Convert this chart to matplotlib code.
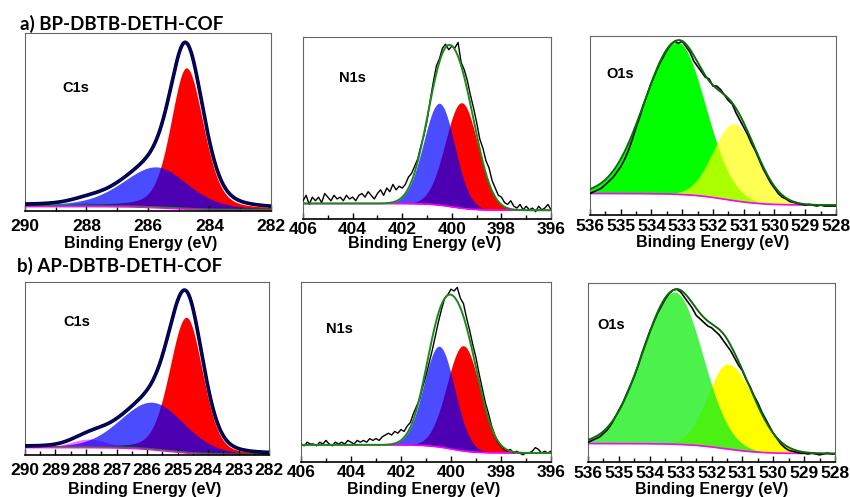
import numpy as np
import matplotlib
matplotlib.use("Agg")
import matplotlib.pyplot as plt
from matplotlib.ticker import MultipleLocator

plt.rcParams['font.family'] = ['Liberation Sans', 'DejaVu Sans']
plt.rcParams['font.weight'] = 'bold'

# ---- data (y in axes units 0..1) ----
# fitted peaks: centre (eV), height, fwhm on high-BE side, fwhm on low-BE side, lorentz part
c1s_a_center = [284.75, 285.72, 288.0]
c1s_a_height = [0.79, 0.225, 0.015]
c1s_a_fwhm_hi = [1.2, 2.6, 1.2]
c1s_a_fwhm_lo = [1.3, 2.4, 1.2]
c1s_a_eta = [0.3, 0.3, 0.0]
c1s_a_bg = [0.03, 0.008]

c1s_b_center = [284.71, 285.82, 287.9]
c1s_b_height = [0.78, 0.27, 0.045]
c1s_b_fwhm_hi = [1.3, 2.45, 1.3]
c1s_b_fwhm_lo = [1.25, 2.45, 1.3]
c1s_b_eta = [0.2, 0.1, 0.0]
c1s_b_bg = [0.048, 0.004]

n1s_a_center = [399.6, 400.5]
n1s_a_height = [0.58, 0.56]
n1s_a_fwhm_hi = [1.55, 1.5]
n1s_a_fwhm_lo = [1.55, 1.45]
n1s_a_bg = [0.085, 0.048]

n1s_b_center = [399.5, 400.47]
n1s_b_height = [0.585, 0.56]
n1s_b_fwhm_hi = [1.55, 1.45]
n1s_b_fwhm_lo = [1.55, 1.45]
n1s_b_bg = [0.095, 0.05]

o1s_a_center = [533.15, 531.31]
o1s_a_height = [0.85, 0.43]
o1s_a_fwhm_hi = [2.53, 1.6]
o1s_a_fwhm_lo = [2.1, 1.8]
o1s_a_bg = [0.12, 0.055]

o1s_b_center = [533.19, 531.46]
o1s_b_height = [0.85, 0.475]
o1s_b_fwhm_hi = [2.43, 1.55]
o1s_b_fwhm_lo = [2.1, 2.0]
o1s_b_bg = [0.103, 0.047]

# measured spectra, 0.125 eV steps from high to low binding energy
n1s_a_raw = [0.10, 0.13, 0.08, 0.12, 0.10, 0.12, 0.09, 0.14, 0.12, 0.10, 0.13, 0.11, 0.12, 0.10, 0.13, 0.11,
             0.12, 0.10, 0.13, 0.14, 0.12, 0.15, 0.13, 0.11, 0.14, 0.16, 0.13, 0.17, 0.15, 0.19, 0.16, 0.18,
             0.17, 0.19, 0.23, 0.25, 0.29, 0.33, 0.40, 0.46, 0.54, 0.65, 0.75, 0.84, 0.88, 0.94, 0.96, 0.93,
             0.95, 0.94, 0.97, 0.86, 0.82, 0.76, 0.68, 0.61, 0.53, 0.44, 0.39, 0.32, 0.28, 0.21, 0.17, 0.13,
             0.12, 0.09, 0.08, 0.10, 0.07, 0.06, 0.08, 0.05, 0.07, 0.05, 0.06, 0.04, 0.07, 0.05, 0.06, 0.08, 0.05]
n1s_b_raw = [0.10, 0.09, 0.11, 0.10, 0.10, 0.09, 0.11, 0.10, 0.12, 0.10, 0.09, 0.11, 0.10, 0.11, 0.10, 0.12,
             0.11, 0.10, 0.12, 0.11, 0.12, 0.11, 0.13, 0.12, 0.13, 0.12, 0.14, 0.15, 0.16, 0.15, 0.17, 0.16,
             0.18, 0.17, 0.20, 0.22, 0.27, 0.31, 0.35, 0.42, 0.48, 0.55, 0.62, 0.70, 0.78, 0.85, 0.91, 0.93,
             0.96, 0.95, 0.97, 0.91, 0.88, 0.80, 0.73, 0.65, 0.58, 0.49, 0.41, 0.33, 0.27, 0.20, 0.15, 0.11,
             0.09, 0.07, 0.06, 0.07, 0.05, 0.06, 0.05, 0.04, 0.05, 0.05, 0.06, 0.08, 0.07, 0.05, 0.06, 0.05, 0.06]
o1s_a_raw = [0.12, 0.13, 0.14, 0.15, 0.17, 0.19, 0.21, 0.24, 0.27, 0.31, 0.36, 0.42, 0.49, 0.55, 0.62, 0.68,
             0.74, 0.79, 0.84, 0.88, 0.92, 0.95, 0.97, 0.96, 0.97, 0.94, 0.91, 0.86, 0.83, 0.80, 0.77, 0.76,
             0.72, 0.72, 0.70, 0.67, 0.64, 0.62, 0.57, 0.53, 0.49, 0.45, 0.40, 0.36, 0.31, 0.26, 0.22, 0.18,
             0.15, 0.12, 0.10, 0.09, 0.075, 0.07, 0.065, 0.06, 0.055, 0.06, 0.055, 0.05, 0.055, 0.05, 0.05, 0.05, 0.05]
o1s_b_raw = [0.11, 0.12, 0.13, 0.14, 0.16, 0.18, 0.21, 0.25, 0.29, 0.33, 0.38, 0.43, 0.48, 0.54, 0.61, 0.67,
             0.73, 0.78, 0.83, 0.87, 0.91, 0.94, 0.96, 0.965, 0.95, 0.92, 0.89, 0.86, 0.82, 0.80, 0.78, 0.76,
             0.75, 0.73, 0.71, 0.68, 0.65, 0.62, 0.58, 0.54, 0.51, 0.46, 0.42, 0.37, 0.33, 0.28, 0.24, 0.20,
             0.16, 0.13, 0.10, 0.08, 0.065, 0.06, 0.055, 0.05, 0.05, 0.045, 0.05, 0.045, 0.04, 0.045, 0.05, 0.045, 0.045]

titles = ["a) BP-DBTB-DETH-COF", "b) AP-DBTB-DETH-COF"]


def peak(x, c, h, w_hi, w_lo, eta=0.0):
    w = np.where(x >= c, w_hi, w_lo) / 2.0
    u = (x - c) / w
    return h * ((1 - eta) * np.exp(-np.log(2) * u ** 2) + eta / (1 + u ** 2))


def background(x, lev, c, s=0.5):
    return lev[1] + (lev[0] - lev[1]) / (1 + np.exp(-(x - c) / s))


def style(ax, xlim, major, minor, pad, lab_x, lab_y):
    ax.set_xlim(*xlim)
    ax.set_ylim(0, 1)
    ax.set_yticks([])
    ax.xaxis.set_major_locator(MultipleLocator(major))
    ax.xaxis.set_minor_locator(MultipleLocator(minor))
    ax.tick_params(axis='x', which='both', direction='in', top=False, labelsize=12.5, pad=pad)
    ax.tick_params(axis='x', which='major', length=4, width=1)
    ax.tick_params(axis='x', which='minor', length=3, width=1)
    for side in ['top', 'left', 'right']:
        ax.spines[side].set_color('#666666')
        ax.spines[side].set_linewidth(0.8)
    ax.spines['bottom'].set_linewidth(1.2)
    ax.set_xlabel("Binding Energy (eV)", fontsize=11.5, fontweight='bold')
    ax.xaxis.label.set_va('center')
    ax.xaxis.set_label_coords(lab_x, lab_y)


fig = plt.figure(figsize=(8.5, 4.97), dpi=100)

# ---------------- C1s ----------------
c1s_sets = [
    (c1s_a_center, c1s_a_height, c1s_a_fwhm_hi, c1s_a_fwhm_lo, c1s_a_eta, c1s_a_bg,
     [0.0294, 0.5755, 0.2894, 0.3581], 2, 1, 6, 0.47, -0.18, (0.15, 0.69)),
    (c1s_b_center, c1s_b_height, c1s_b_fwhm_hi, c1s_b_fwhm_lo, c1s_b_eta, c1s_b_bg,
     [0.0294, 0.0845, 0.2871, 0.3481], 1, 0.5, 6, 0.49, -0.197, (0.156, 0.77)),
]
for cen, hgt, whi, wlo, eta, bgl, pos, mj, mn, pad, lx, ly, tpos in c1s_sets:
    ax = fig.add_axes(pos)
    x = np.linspace(290, 282, 600)
    bg = background(x, bgl, 285.3, 0.6)
    red = peak(x, cen[0], hgt[0], whi[0], wlo[0], eta[0])
    blue = peak(x, cen[1], hgt[1], whi[1], wlo[1], eta[1])
    mag = peak(x, cen[2], hgt[2], whi[2], wlo[2], eta[2])
    ax.fill_between(x, bg, bg + mag, color='#ff33ff', alpha=0.7, lw=0, zorder=1)
    ax.fill_between(x, bg, bg + red, color='#ff0000', lw=0, zorder=1.1)
    ax.fill_between(x, bg, bg + blue, color='#0000ff', alpha=0.7, lw=0, zorder=1.2)
    ax.plot(x, bg, color='#1a8a1a', lw=1.0, zorder=2)
    ax.plot(x, bg - 0.006, color='#ff00ff', lw=0.9, zorder=2)
    env = bg + red + blue + mag
    ax.plot(x, env, color='black', lw=2.6, zorder=3)
    ax.plot(x, env, color='#000080', lw=1.5, zorder=4)
    ax.text(tpos[0], tpos[1], "C1s", transform=ax.transAxes, fontsize=10.5,
            fontweight='bold', va='center', ha='left')
    style(ax, (290, 282), mj, mn, pad, lx, ly)

# ---------------- N1s ----------------
n1s_sets = [
    (n1s_a_center, n1s_a_height, n1s_a_fwhm_hi, n1s_a_fwhm_lo, n1s_a_bg, n1s_a_raw,
     [0.3565, 0.5594, 0.2918, 0.3662], 2, -0.132, (0.145, 0.775)),
    (n1s_b_center, n1s_b_height, n1s_b_fwhm_hi, n1s_b_fwhm_lo, n1s_b_bg, n1s_b_raw,
     [0.3541, 0.0704, 0.2941, 0.3622], 2, -0.15, (0.10, 0.74)),
]
for cen, hgt, whi, wlo, bgl, raw, pos, pad, ly, tpos in n1s_sets:
    ax = fig.add_axes(pos)
    x = np.linspace(406, 396, 600)
    bg = background(x, bgl, 400.0, 0.45)
    red = peak(x, cen[0], hgt[0], whi[0], wlo[0])
    blue = peak(x, cen[1], hgt[1], whi[1], wlo[1])
    ax.fill_between(x, bg, bg + red, color='#ff0000', lw=0, zorder=1)
    ax.fill_between(x, bg, bg + blue, color='#0000ff', alpha=0.7, lw=0, zorder=1.1)
    ax.plot(x, bg, color='#ff00ff', lw=1.2, zorder=2)
    ax.plot(np.linspace(406, 396, len(raw)), raw, color='black', lw=1.0, zorder=3)
    ax.plot(x, bg + red + blue, color='#1a8a1a', lw=1.4, zorder=4)
    ax.text(tpos[0], tpos[1], "N1s", transform=ax.transAxes, fontsize=10.5,
            fontweight='bold', va='center', ha='left')
    style(ax, (406, 396), 2, 1, pad, 0.49, ly)

# ---------------- O1s ----------------
o1s_sets = [
    (o1s_a_center, o1s_a_height, o1s_a_fwhm_hi, o1s_a_fwhm_lo, o1s_a_bg, o1s_a_raw,
     [0.6941, 0.5674, 0.2894, 0.3602], 3, -0.156, (0.065, 0.79), True),
    (o1s_b_center, o1s_b_height, o1s_b_fwhm_hi, o1s_b_fwhm_lo, o1s_b_bg, o1s_b_raw,
     [0.6918, 0.0704, 0.2906, 0.3602], 3, -0.151, (0.036, 0.765), False),
]
for cen, hgt, whi, wlo, bgl, raw, pos, pad, ly, tpos, yellow_top in o1s_sets:
    ax = fig.add_axes(pos)
    x = np.linspace(536, 528, 600)
    bg = background(x, bgl, 531.6, 0.6)
    grn = peak(x, cen[0], hgt[0], whi[0], wlo[0])
    yel = peak(x, cen[1], hgt[1], whi[1], wlo[1])
    if yellow_top:
        ax.fill_between(x, bg, bg + grn, color='#00ff00', lw=0, zorder=1)
        ax.fill_between(x, bg, bg + yel, color='#ffff00', alpha=0.67, lw=0, zorder=1.1)
    else:
        ax.fill_between(x, bg, bg + yel, color='#ffff00', lw=0, zorder=1)
        ax.fill_between(x, bg, bg + grn, color='#1aee1a', alpha=0.78, lw=0, zorder=1.1)
    ax.plot(x, bg, color='#ff00ff', lw=1.2, zorder=2)
    ax.plot(np.linspace(536, 528, len(raw)), raw, color='black', lw=1.2, zorder=3)
    ax.plot(x, bg + grn + yel, color='#0b6a0b', lw=1.4, zorder=4)
    ax.text(tpos[0], tpos[1], "O1s", transform=ax.transAxes, fontsize=10.5,
            fontweight='bold', va='center', ha='left')
    style(ax, (536, 528), 1, 0.5, pad, 0.5, ly)

fig.text(0.0235, 0.9517, titles[0], fontsize=13.5, fontweight='bold', family=['Lato', 'DejaVu Sans'],
         va='center', ha='left')
fig.text(0.020, 0.4648, titles[1], fontsize=13.5, fontweight='bold', family=['Lato', 'DejaVu Sans'],
         va='center', ha='left')

fig.savefig("out.png", dpi=100)
